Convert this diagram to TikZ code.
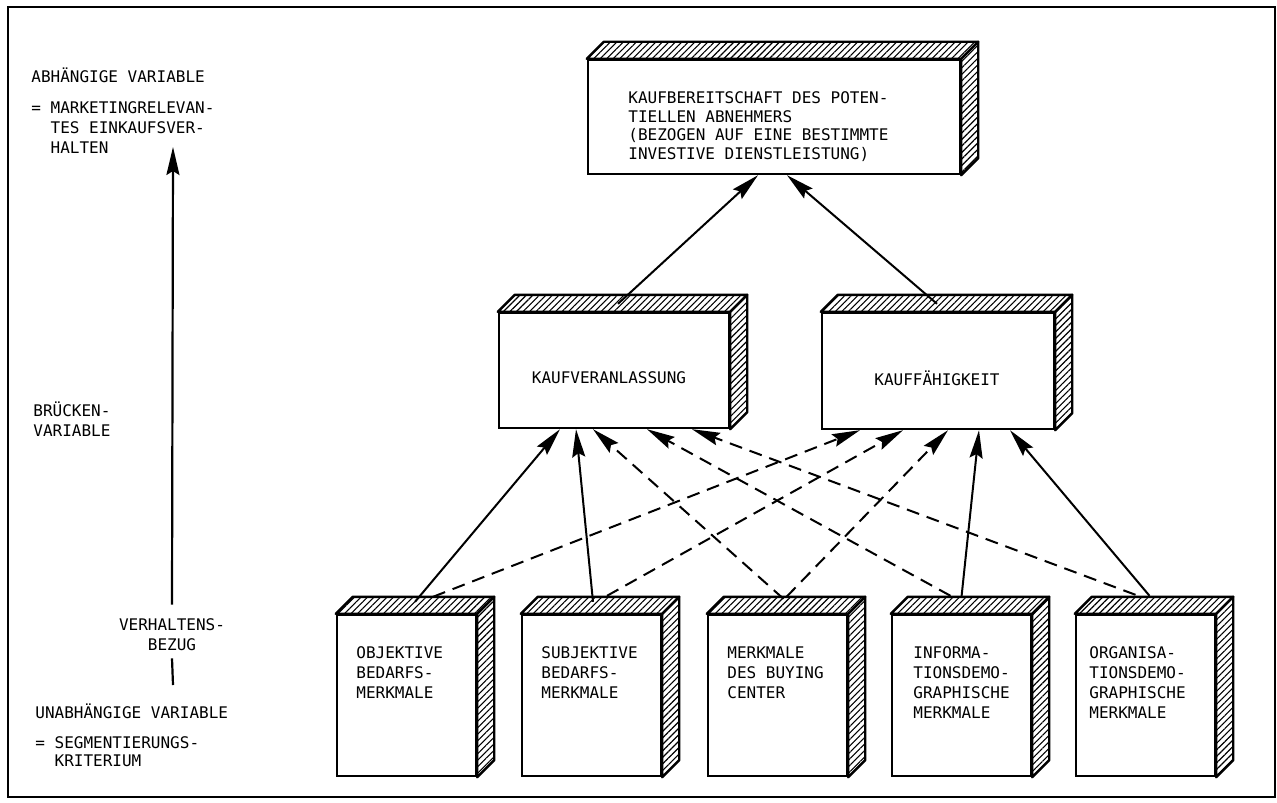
\documentclass[tikz,border=0pt]{standalone}
\usepackage{fontspec}
\setmainfont{DejaVu Sans Mono}
\usetikzlibrary{arrows.meta,patterns.meta}

\tikzset{
  kasten/.style={draw, line width=1.2pt, fill=white, inner sep=0pt},
  schrift/.style={inner sep=0pt, anchor=north west, align=left},
  pfeil/.style={line width=1pt, -{Stealth[length=14pt,width=6.5pt,inset=2pt]}},
  strich/.style={pfeil, dash pattern=on 6.5pt off 4pt},
  schraffur/.style={draw, line width=1.2pt, line join=round,
    pattern={Lines[angle=45,distance=2.3pt,line width=0.55pt]}},
}
% hatched top and right face of a box
\newcommand{\quader}[1]{%
  \draw[schraffur] (#1.north west) -- ++(17,-17) -- ([shift={(17,-17)}]#1.north east) -- (#1.north east) -- cycle;
  \draw[schraffur] (#1.north east) -- ++(17,-17) -- ([shift={(17,-17)}]#1.south east) -- (#1.south east) -- cycle;
}

\begin{document}
\begin{tikzpicture}[x=0.5pt, y=-0.5pt, font=\fontsize{8}{10}\selectfont]
\useasboundingbox (0,0) rectangle (1277,802);
% Frame
\draw[line width=1.1pt] (8,7) rectangle (1275,797);

% Top box
\node[kasten, minimum width=186pt, minimum height=57pt] (kauf) at (774,117) {};
\quader{kauf}
\node[schrift, font=\fontsize{8}{9.4}\selectfont] (kauftext) at (628,91) {KAUFBEREITSCHAFT DES POTEN-\\TIELLEN ABNEHMERS\\(BEZOGEN AUF EINE BESTIMMTE\\INVESTIVE DIENSTLEISTUNG)};

% Middle boxes
\node[kasten, minimum width=115pt, minimum height=57.5pt] (anlass) at (614,370.5) {};
\quader{anlass}
\node (anlasstext) at (609,378) {KAUFVERANLASSUNG};
\node[kasten, minimum width=116pt, minimum height=58pt] (faehig) at (938,371) {};
\quader{faehig}
\node (faehigtext) at (937,378) {KAUFFÄHIGKEIT};

% Bottom boxes
\node[kasten, minimum width=69.5pt, minimum height=80.5pt] (obj) at (406.5,695.5) {};
\quader{obj}
\node[schrift] (objtext) at (356,646) {OBJEKTIVE\\BEDARFS-\\MERKMALE};
\node[kasten, minimum width=69.5pt, minimum height=80.5pt] (subj) at (591.5,695.5) {};
\quader{subj}
\node[schrift] (subjtext) at (541,646) {SUBJEKTIVE\\BEDARFS-\\MERKMALE};
\node[kasten, minimum width=69.5pt, minimum height=80.5pt] (buying) at (777.5,695.5) {};
\quader{buying}
\node[schrift] (buyingtext) at (727,646) {MERKMALE\\DES BUYING\\CENTER};
\node[kasten, minimum width=69.5pt, minimum height=80.5pt] (info) at (961.5,695.5) {};
\quader{info}
\node[schrift] (infotext) at (913,646) {INFORMA-\\TIONSDEMO-\\GRAPHISCHE\\MERKMALE};
\node[kasten, minimum width=69.5pt, minimum height=80.5pt] (orga) at (1145.5,695.5) {};
\quader{orga}
\node[schrift] (orgatext) at (1089,646) {ORGANISA-\\TIONSDEMO-\\GRAPHISCHE\\MERKMALE};

% Left column
\node[schrift] (abh) at (31,67.5) {ABHÄNGIGE VARIABLE};
\node[schrift] (abhdef) at (31,101) {= MARKETINGRELEVAN-\\\phantom{= }TES EINKAUFSVER-\\\phantom{= }HALTEN};
\node[schrift] (bruecke) at (33,401) {BRÜCKEN-\\VARIABLE};
\node[align=center, inner sep=0pt] (bezug) at (172,635) {VERHALTENS-\\BEZUG};
\node[schrift] (unabh) at (35,703) {UNABHÄNGIGE VARIABLE};
\node[schrift, font=\fontsize{8}{9}\selectfont] (unabhdef) at (35,736) {= SEGMENTIERUNGS-\\\phantom{= }KRITERIUM};
\coordinate (oben) at (173,147);
\coordinate (unten) at (173,685);
\draw[pfeil, line width=1.1pt] ([yshift=7pt]bezug.north) -- (oben);
\draw[line width=1.1pt] ([yshift=-3.5pt]bezug.south) -- (unten);

% Arrows to the top box
\draw[pfeil] ([shift={(4,-8)}]anlass.north) -- ([shift={(-16,0)}]kauf.south);
\draw[pfeil] ([shift={(-1,-8)}]faehig.north) -- ([shift={(13,0)}]kauf.south);

% Arrows to Kaufveranlassung
\draw[pfeil] ([shift={(8.5,-12)}]obj.north) -- ([shift={(-54,0)}]anlass.south);
\draw[pfeil] ([shift={(1.5,-12)}]subj.north) -- ([shift={(-38,0)}]anlass.south);
\draw[strich] ([shift={(6,-15)}]buying.north) -- ([shift={(-21,0)}]anlass.south);
\draw[strich] ([shift={(-11,-18)}]info.north) -- ([shift={(33,0)}]anlass.south);
\draw[strich] ([shift={(-10,-19)}]orga.north) -- ([shift={(78,0)}]anlass.south);

% Arrows to Kauffaehigkeit
\draw[strich] ([shift={(26.5,-17)}]obj.north) -- ([shift={(-78,0)}]faehig.south);
\draw[strich] ([shift={(15.5,-18)}]subj.north) -- ([shift={(-35,0)}]faehig.south);
\draw[strich] ([shift={(9,-17)}]buying.north) -- ([shift={(10,0)}]faehig.south);
\draw[pfeil] ([shift={(0,-17)}]info.north) -- ([shift={(41,0)}]faehig.south);
\draw[pfeil] ([shift={(4,-18)}]orga.north) -- ([shift={(72,0)}]faehig.south);
\end{tikzpicture}
\end{document}
